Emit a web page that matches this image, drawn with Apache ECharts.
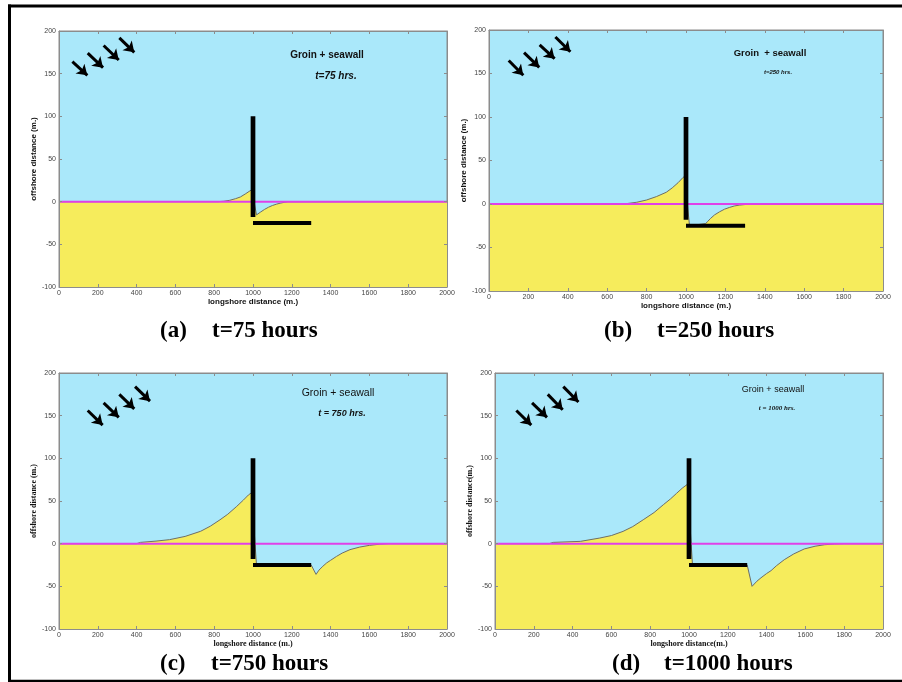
<!DOCTYPE html>
<html>
<head>
<meta charset="utf-8">
<script src="https://cdn.jsdelivr.net/npm/echarts@6/dist/echarts.min.js"></script>
<style>
  html, body { margin: 0; padding: 0; background: #ffffff; }
  #main { width: 902px; height: 682px; }
</style>
</head>
<body>
<div id="main"></div>
<script>
// Axis ticks shared by all four panels (metres)
const longshoreTicks = [0, 200, 400, 600, 800, 1000, 1200, 1400, 1600, 1800, 2000];
const offshoreTicks = [-100, -50, 0, 50, 100, 150, 200];

// Shoreline position after 75 hours
const shoreA_x = [0, 820, 850, 880, 910, 935, 960, 980, 1000, 1004, 1018, 1040, 1060, 1080, 1100, 1120, 1140, 1160, 1180, 1190, 2000];
const shoreA_y = [0, 0, 0.5, 1.6, 3.5, 5.5, 9, 12, 15, 2, -15.5, -12, -9, -6.5, -4.5, -3, -1.8, -0.8, -0.2, 0, 0];

// Shoreline position after 250 hours
const shoreB_x = [0, 680, 700, 750, 800, 850, 900, 930, 960, 985, 1000, 1004, 1018, 1100, 1110, 1125, 1145, 1170, 1195, 1220, 1245, 1270, 1300, 1340, 2000];
const shoreB_y = [0, 0, 0.5, 2, 4.6, 8.5, 13.5, 18.5, 24.5, 30.5, 33, 6, -25, -22.5, -20, -16.5, -12.5, -9, -6, -4, -2.3, -1.3, -0.6, 0, 0];

// Shoreline position after 750 hours
const shoreC_x = [0, 400, 420, 500, 570, 650, 730, 780, 830, 870, 916, 950, 976, 1000, 1005, 1018, 1300, 1325, 1340, 1360, 1380, 1400, 1430, 1460, 1500, 1550, 1600, 1650, 1700, 2000];
const shoreC_y = [0, 0, 1.5, 3, 4.7, 8.5, 14.5, 20.5, 28, 34.5, 43.7, 51, 57, 61, 18, -25, -25, -36, -31, -26.5, -22.5, -19.5, -15, -11, -7, -4, -2, -0.7, 0, 0];

// Shoreline position after 1000 hours
const shoreD_x = [0, 280, 300, 440, 540, 600, 660, 710, 764, 820, 868, 905, 936, 965, 1000, 1005, 1018, 1300, 1325, 1350, 1371, 1400, 1423, 1450, 1491, 1540, 1594, 1650, 1700, 1750, 1800, 2000];
const shoreD_y = [0, 0, 1.5, 2.7, 6.6, 9.5, 14.4, 20, 28, 36.5, 45.7, 52.5, 59, 65, 71, 22, -25, -25, -50, -44, -40, -35, -31.6, -26, -18.8, -12, -6.2, -3, -1.2, -0.4, 0, 0];

// Original (initial) shoreline
const initialShore_x = [0, 2000];
const initialShore_y = [0, 0];

// Groin: longshore position and offshore extent
const groin_x = [1000, 1000];
const groin_y = [-18, 100];

// Seawall: longshore extent and offshore position
const seawall_x = [1000, 1300];
const seawall_y = [-25, -25];

// Incoming wave direction arrows [start, end] per panel
const wavesA = [[[69, 164], [146, 148]], [[148, 174], [227, 157]], [[230, 183], [308, 166]], [[311, 192], [388, 175]]];
const wavesB = [[[100, 165], [174, 148]], [[178, 174], [255, 157]], [[257, 183], [333, 167]], [[337, 192], [413, 175]]];
const wavesC = [[[148, 156], [225, 139]], [[230, 165], [308, 148]], [[311, 175], [388, 158]], [[392, 184], [469, 167]]];
const wavesD = [[[110, 156], [187, 139]], [[191, 165], [268, 148]], [[272, 175], [349, 157]], [[352, 184], [430, 166]]];

// Panel texts
const headings = ['Groin + seawall', 'Groin  + seawall', 'Groin + seawall', 'Groin + seawall'];
const timeNotes = ['t=75 hrs.', 't=250 hrs.', 't = 750 hrs.', 't = 1000 hrs.'];
const captionTags = ['(a)', '(b)', '(c)', '(d)'];
const captionTimes = ['t=75 hours', 't=250 hours', 't=750 hours', 't=1000 hours'];
const xNames = ['longshore distance (m.)', 'longshore distance (m.)', 'longshore distance (m.)', 'longshore distance(m.)'];
const yNames = ['offshore distance (m.)', 'offshore distance (m.)', 'offshore distance (m.)', 'offshore distance(m.)'];

const SEA = '#aae8fa';
const SAND = '#f6ec5c';
const FRAME = '#8c8c8c';

const panels = [
  { grid: { left: 59, top: 31, width: 388, height: 256 }, sx: shoreA_x, sy: shoreA_y, waves: wavesA,
    nameFont: 'Liberation Sans', yGap: 17,
    head: { x: 327, y: 55, font: 'bold 10px "Liberation Sans"' }, note: { x: 336, y: 76, font: 'italic bold 10px "Liberation Sans"' },
    cap: { tx: 160, ty: 331, sx: 212 } },
  { grid: { left: 489, top: 30, width: 394, height: 261 }, sx: shoreB_x, sy: shoreB_y, waves: wavesB,
    nameFont: 'Liberation Sans', yGap: 18,
    head: { x: 770, y: 53, font: 'bold 9.5px "Liberation Sans"' }, note: { x: 778, y: 72, font: 'italic bold 6px "Liberation Sans"' },
    cap: { tx: 604, ty: 331, sx: 657 } },
  { grid: { left: 59, top: 373, width: 388, height: 256 }, sx: shoreC_x, sy: shoreC_y, waves: wavesC,
    nameFont: 'Liberation Serif', yGap: 17,
    head: { x: 338, y: 393, font: '10.5px "Liberation Sans"' }, note: { x: 342, y: 414, font: 'italic bold 9px "Liberation Sans"' },
    cap: { tx: 160, ty: 664, sx: 211 } },
  { grid: { left: 495, top: 373, width: 388, height: 256 }, sx: shoreD_x, sy: shoreD_y, waves: wavesD,
    nameFont: 'Liberation Serif', yGap: 17,
    head: { x: 773, y: 390, font: '9px "Liberation Sans"' }, note: { x: 777, y: 408, font: 'italic bold 7px "Liberation Serif"' },
    cap: { tx: 612, ty: 664, sx: 664 } }
];

const pairs = (xs, ys) => xs.map((x, k) => [x, ys[k]]);
const xMin = longshoreTicks[0], xMax = longshoreTicks[longshoreTicks.length - 1];
const xStep = longshoreTicks[1] - longshoreTicks[0];
const yMin = offshoreTicks[0], yMax = offshoreTicks[offshoreTicks.length - 1];
const yStep = offshoreTicks[1] - offshoreTicks[0];
const plain = v => String(v);

const grids = [], xAxes = [], yAxes = [], series = [], graphics = [];

panels.forEach((p, i) => {
  grids.push(Object.assign({ show: true, backgroundColor: SEA, borderColor: FRAME, borderWidth: 1 }, p.grid));

  const tick = { show: true, inside: true, length: 3, lineStyle: { color: FRAME, width: 1 } };
  const line = { show: true, onZero: false, lineStyle: { color: FRAME, width: 1 } };
  const nameStyle = { fontFamily: p.nameFont, fontWeight: 'bold', fontSize: 8, color: '#111' };

  xAxes.push({
    gridIndex: i, type: 'value', min: xMin, max: xMax, interval: xStep, position: 'bottom', z: 10,
    axisLine: line, axisTick: tick, splitLine: { show: false },
    axisLabel: { fontSize: 7, color: '#444', margin: 3, fontFamily: 'Liberation Sans', formatter: plain },
    name: xNames[i], nameLocation: 'middle', nameGap: 10, nameTextStyle: nameStyle
  });
  xAxes.push({
    gridIndex: i, type: 'value', min: xMin, max: xMax, interval: xStep, position: 'top', z: 10,
    axisLine: line, axisTick: tick, splitLine: { show: false }, axisLabel: { show: false }
  });
  yAxes.push({
    gridIndex: i, type: 'value', min: yMin, max: yMax, interval: yStep, position: 'left', z: 10,
    axisLine: line, axisTick: tick, splitLine: { show: false },
    axisLabel: { fontSize: 7, color: '#444', margin: 3, fontFamily: 'Liberation Sans', formatter: plain },
    name: yNames[i], nameLocation: 'middle', nameGap: p.yGap, nameTextStyle: nameStyle
  });
  yAxes.push({
    gridIndex: i, type: 'value', min: yMin, max: yMax, interval: yStep, position: 'right', z: 10,
    axisLine: line, axisTick: tick, splitLine: { show: false }, axisLabel: { show: false }
  });

  const xi = 2 * i, yi = 2 * i;
  // beach (land below the shoreline)
  series.push({
    type: 'line', xAxisIndex: xi, yAxisIndex: yi, data: pairs(p.sx, p.sy),
    symbol: 'none', lineStyle: { color: '#6e6e66', width: 1 },
    areaStyle: { color: SAND, opacity: 1, origin: 'start' }, z: 2, silent: true
  });
  // initial shoreline
  series.push({
    type: 'line', xAxisIndex: xi, yAxisIndex: yi, data: pairs(initialShore_x, initialShore_y),
    symbol: 'none', lineStyle: { color: '#e040e8', width: 2 }, z: 3, silent: true
  });
  // groin
  series.push({
    type: 'line', xAxisIndex: xi, yAxisIndex: yi, data: pairs(groin_x, groin_y),
    symbol: 'none', lineStyle: { color: '#000', width: 4.7, cap: 'butt' }, z: 4, silent: true
  });
  // seawall
  series.push({
    type: 'line', xAxisIndex: xi, yAxisIndex: yi, data: pairs(seawall_x, seawall_y),
    symbol: 'none', lineStyle: { color: '#000', width: 4.2, cap: 'butt' }, z: 4, silent: true
  });
  // wave direction arrows
  series.push({
    type: 'lines', coordinateSystem: 'cartesian2d', xAxisIndex: xi, yAxisIndex: yi,
    data: p.waves.map(w => ({ coords: w })),
    symbol: ['none', 'arrow'], symbolSize: 10,
    lineStyle: { color: '#000', width: 3, opacity: 1, curveness: 0 }, z: 5, silent: true
  });

  graphics.push({ type: 'text', x: p.head.x, y: p.head.y, style: { text: headings[i], font: p.head.font, fill: '#111', align: 'center', verticalAlign: 'middle' }, z: 20 });
  graphics.push({ type: 'text', x: p.note.x, y: p.note.y, style: { text: timeNotes[i], font: p.note.font, fill: '#111', align: 'center', verticalAlign: 'middle' }, z: 20 });
  graphics.push({ type: 'text', x: p.cap.tx, y: p.cap.ty, style: { text: captionTags[i], font: 'bold 23px "Liberation Serif"', fill: '#000', align: 'left', verticalAlign: 'middle' }, z: 20 });
  graphics.push({ type: 'text', x: p.cap.sx, y: p.cap.ty, style: { text: captionTimes[i], font: 'bold 23px "Liberation Serif"', fill: '#000', align: 'left', verticalAlign: 'middle' }, z: 20 });
});

// page frame (left, top and bottom rules)
graphics.push({ type: 'line', shape: { x1: 9.5, y1: 4.5, x2: 9.5, y2: 682 }, style: { stroke: '#000', lineWidth: 3 }, z: 20 });
graphics.push({ type: 'line', shape: { x1: 8, y1: 6, x2: 902, y2: 6 }, style: { stroke: '#000', lineWidth: 3 }, z: 20 });
graphics.push({ type: 'line', shape: { x1: 8, y1: 681, x2: 902, y2: 681 }, style: { stroke: '#000', lineWidth: 2.5 }, z: 20 });

const chart = echarts.init(document.getElementById('main'), null, { renderer: 'canvas', width: 902, height: 682 });
chart.setOption({
  animation: false,
  backgroundColor: '#ffffff',
  grid: grids,
  xAxis: xAxes,
  yAxis: yAxes,
  series: series,
  graphic: graphics
});
</script>
</body>
</html>
